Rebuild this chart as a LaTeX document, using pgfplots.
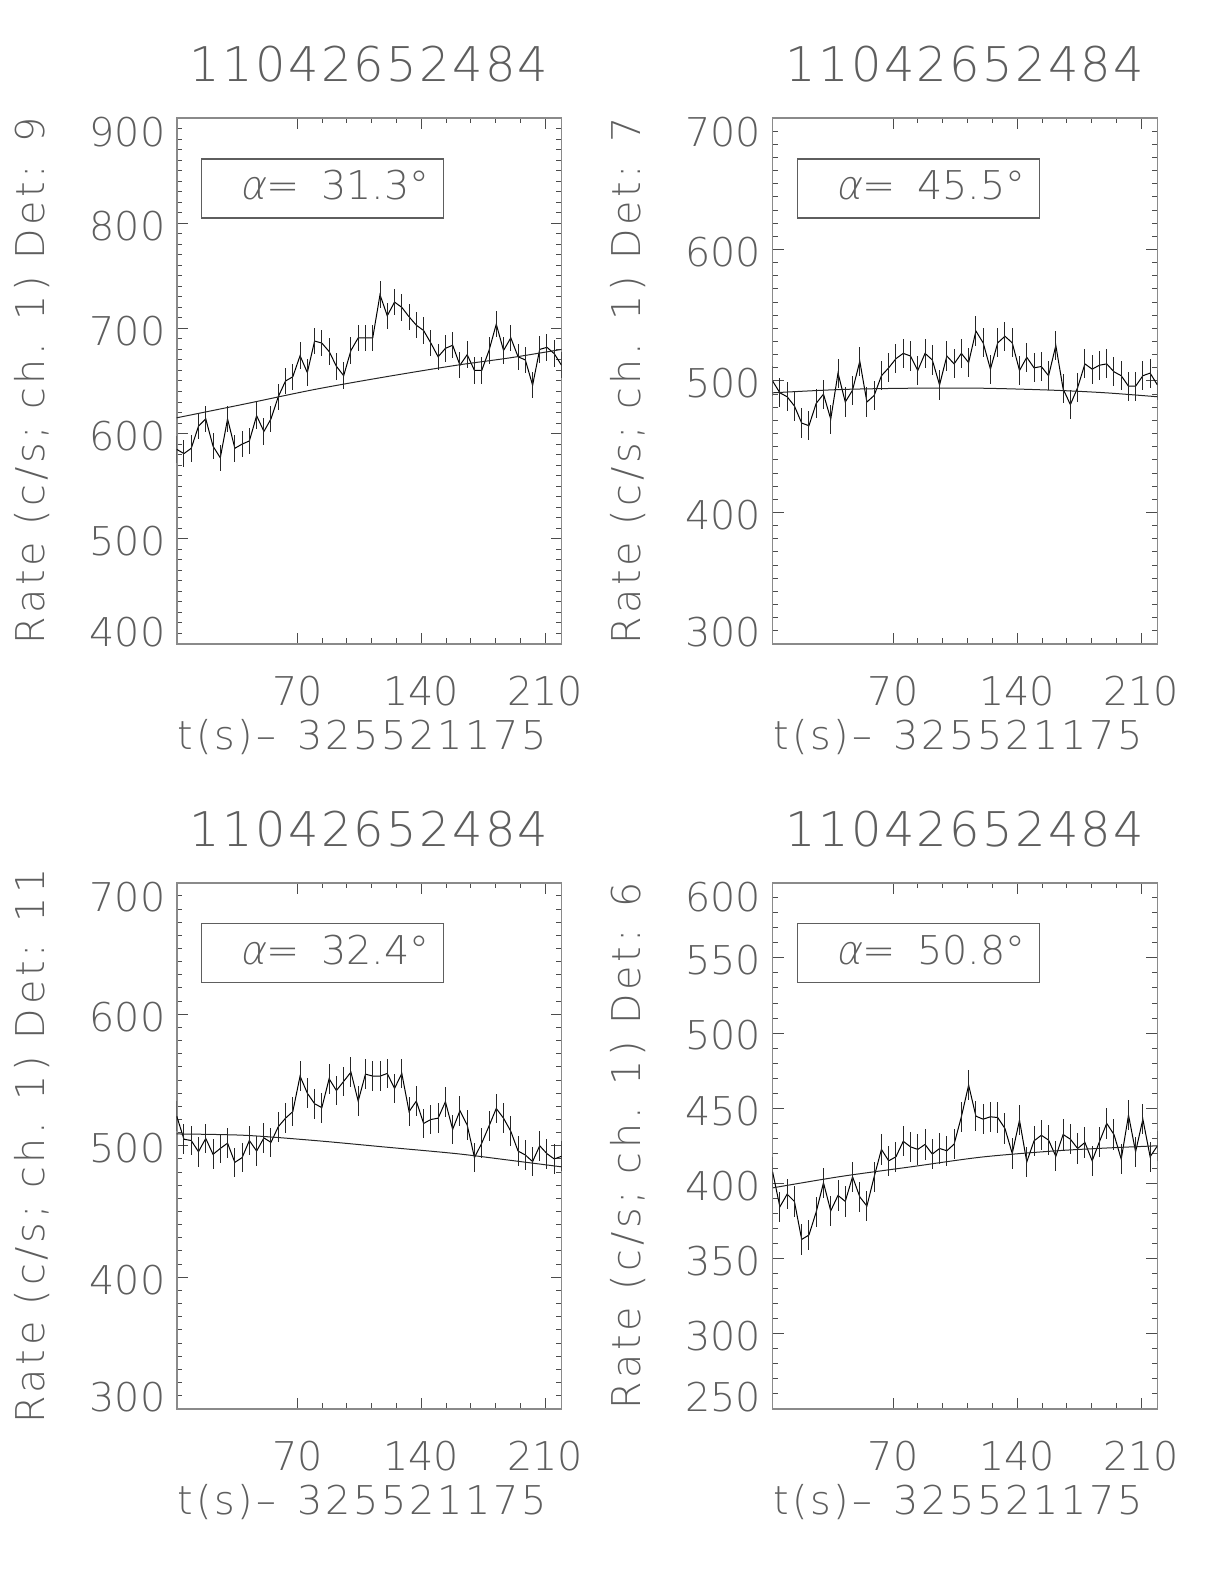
\documentclass[border=0pt]{standalone}
\usepackage{fontspec}
\setmainfont{DejaVu Sans ExtraLight}
\newfontfamily\slfont[FakeSlant=0.2]{DejaVu Sans ExtraLight}
\usepackage{pgfplots}
\pgfplotsset{compat=1.18}
\usepackage{pgfplotstable}

\definecolor{txt}{HTML}{5E5E5E}
\definecolor{frame}{HTML}{8A8A8A}

% count rates per 4.096 s bin, detectors 9, 7, 11, 6
\pgfplotstableread{
t     d9   d7   d11    d6
2.0   585  500  522.6  407.7
6.1   581  491  505    384.4
10.2  586  488  504    392.8
14.3  607  481  495.5  388
18.4  614  468  505.6  362.7
22.5  588  466  493.5  365.6
26.6  577  483  498    381
30.7  614  490  502    400.4
34.8  586  471  487.4  381.7
38.9  590  506  491    392
43.0  593  484  504    388
47.1  617  493  496    404.4
51.2  602  515  506    391
55.2  614  484  502.6  384.9
59.3  635  489  514.5  404.4
63.4  650  504  521    422.6
67.5  654  510  526    415
71.6  674  517  553    417.7
75.7  658  521  540    428
79.8  688  519  532    424.3
83.9  686  508  529    422.6
88.0  678  521  551    425.9
92.1  664  516  542    419.5
96.2  655  497  549    423.2
100.3 679  519  556    421.7
104.4 691  513  534    426.1
108.5 691  521  554.5  444.3
112.6 691  514  553    465.4
116.7 732  538  553    444.7
120.8 712  529  555    442.7
124.9 725  509  543.6  444.3
129.0 720  529  555    443.8
133.1 711  534  526    436.5
137.2 703  529  534    419.9
141.3 698  508  517    442
145.4 686  518  520    414.3
149.5 673  510  521    428.3
153.6 681  511  533.5  432
157.7 684  504  512.5  428.8
161.8 665  527  526.7  418
165.9 675  494  515.8  432.5
170.0 660  482  491    429.4
174.1 660  495  502    423.2
178.2 679  513  515    427.2
182.3 704  509  528.4  415
186.4 679  512  521    427.7
190.5 691  513  511    439.9
194.6 673  507  496    432.5
198.7 670  504  493    416.1
202.8 646  496  488    445.4
206.8 680  496  500    421
210.9 682  504  494    442.7
215.0 676  506  490    417.7
219.1 665  497  492    425
}\rates

% background model curves
\pgfplotstableread{
t     f9   f7     f11  f6
2.0   615  491    509  397
40.0  628  493.5  508  404.5
80.0  642  494.5  504  411
120.0 654  494.5  499  417.5
160.0 665  493    494  421.5
190.0 672  491    489  423.5
219.1 680  488    484  425
}\fits

\pgfplotsset{
  panel/.style={
    scale only axis, width=192.4bp, height=263bp, anchor=south west,
    xmin=2, xmax=219.1, xtick={70,140,210}, minor x tick num=4,
    tick align=inside,
    major tick length=5.5bp, minor tick length=2.75bp,
    axis line style={frame, line width=0.8bp},
    every tick/.style={black!70, line width=0.5bp},
    /pgf/number format/assume math mode=true,
    tick label style={font=\fontsize{19.9}{21}\selectfont, text=txt, inner sep=0pt},
    xticklabel style={anchor=north, yshift=-16bp},
    yticklabel style={anchor=east, xshift=-5.5bp},
    % end labels sit inside the frame, as in the original
    yticklabel={\ifnum\ticknum=1 \raisebox{6bp}[\height][\depth]{\pgfmathprintnumber{\tick}}%
      \else\ifnum\ticknum=#1 \raisebox{-7.25bp}[\height][\depth]{\pgfmathprintnumber{\tick}}%
      \else\raisebox{-1.2bp}[\height][\depth]{\pgfmathprintnumber{\tick}}\fi\fi},
    title style={at={(axis description cs:0.5,1)}, anchor=south, yshift=11.5bp, inner sep=0pt,
      font=\fontsize{24}{26}\selectfont\addfontfeature{LetterSpace=5}, text=txt},
    xlabel style={at={(axis description cs:0.483,0)}, anchor=north, yshift=-37.5bp, inner sep=0pt,
      font=\fontsize{19.9}{21}\selectfont\addfontfeature{LetterSpace=7}, text=txt},
    ylabel style={at={(axis description cs:-0.376,0.5)}, anchor=center, inner sep=0pt,
      font=\fontsize{19.9}{21}\selectfont\addfontfeature{LetterSpace=9.5}, text=txt},
    xlabel={t(s)–\hspace{11bp}325521175},
    title={11042652484},
  },
  rate/.style={black, line width=0.5bp, no markers,
    error bars/.cd, y dir=both, y fixed=#1, error mark=none,
    error bar style={black!85, line width=0.5bp}},
  model/.style={black!85, line width=0.5bp, no markers, smooth},
}

\newcommand{\alphabox}[1]{%
  \node[draw=txt, line width=0.6bp, minimum width=121bp, minimum height=29.5bp, inner sep=0pt]
    at (axis description cs:0.3794,0.866) {};
  \node[inner sep=0pt, text=txt, font=\fontsize{19.9}{21}\selectfont, xshift=6bp, yshift=1.5bp]
    at (axis description cs:0.3794,0.866) {{\slfont α}=\hspace{11bp}#1°};
}

\begin{document}
\begin{tikzpicture}
\path[use as bounding box] (0,0) rectangle (612bp,792bp);

\begin{axis}[panel=6, at={(88.35bp,470bp)},
  ymin=400, ymax=900, ytick distance=100, minor y tick num=9,
  ylabel={Rate (c/s; ch. 1) Det: 9}]
\addplot[rate=12.6] table[x=t, y=d9] {\rates};
\addplot[model] table[x=t, y=f9] {\fits};
\alphabox{31.3}
\end{axis}

\begin{axis}[panel=5, at={(386.3bp,470bp)},
  ymin=300, ymax=700, ytick distance=100, minor y tick num=9,
  ylabel={Rate (c/s; ch. 1) Det: 7}]
\addplot[rate=11.1] table[x=t, y=d7] {\rates};
\addplot[model] table[x=t, y=f7] {\fits};
\alphabox{45.5}
\end{axis}

\begin{axis}[panel=5, at={(88.35bp,87.6bp)},
  ymin=300, ymax=700, ytick distance=100, minor y tick num=9,
  ylabel={Rate (c/s; ch. 1) Det: 11}]
\addplot[rate=11.3] table[x=t, y=d11] {\rates};
\addplot[model] table[x=t, y=f11] {\fits};
\alphabox{32.4}
\end{axis}

\begin{axis}[panel=8, at={(386.3bp,87.6bp)},
  ymin=250, ymax=600, ytick distance=50, minor y tick num=4,
  ylabel={Rate (c/s; ch. 1) Det: 6}]
\addplot[rate=10.1] table[x=t, y=d6] {\rates};
\addplot[model] table[x=t, y=f6] {\fits};
\alphabox{50.8}
\end{axis}
\end{tikzpicture}
\end{document}
